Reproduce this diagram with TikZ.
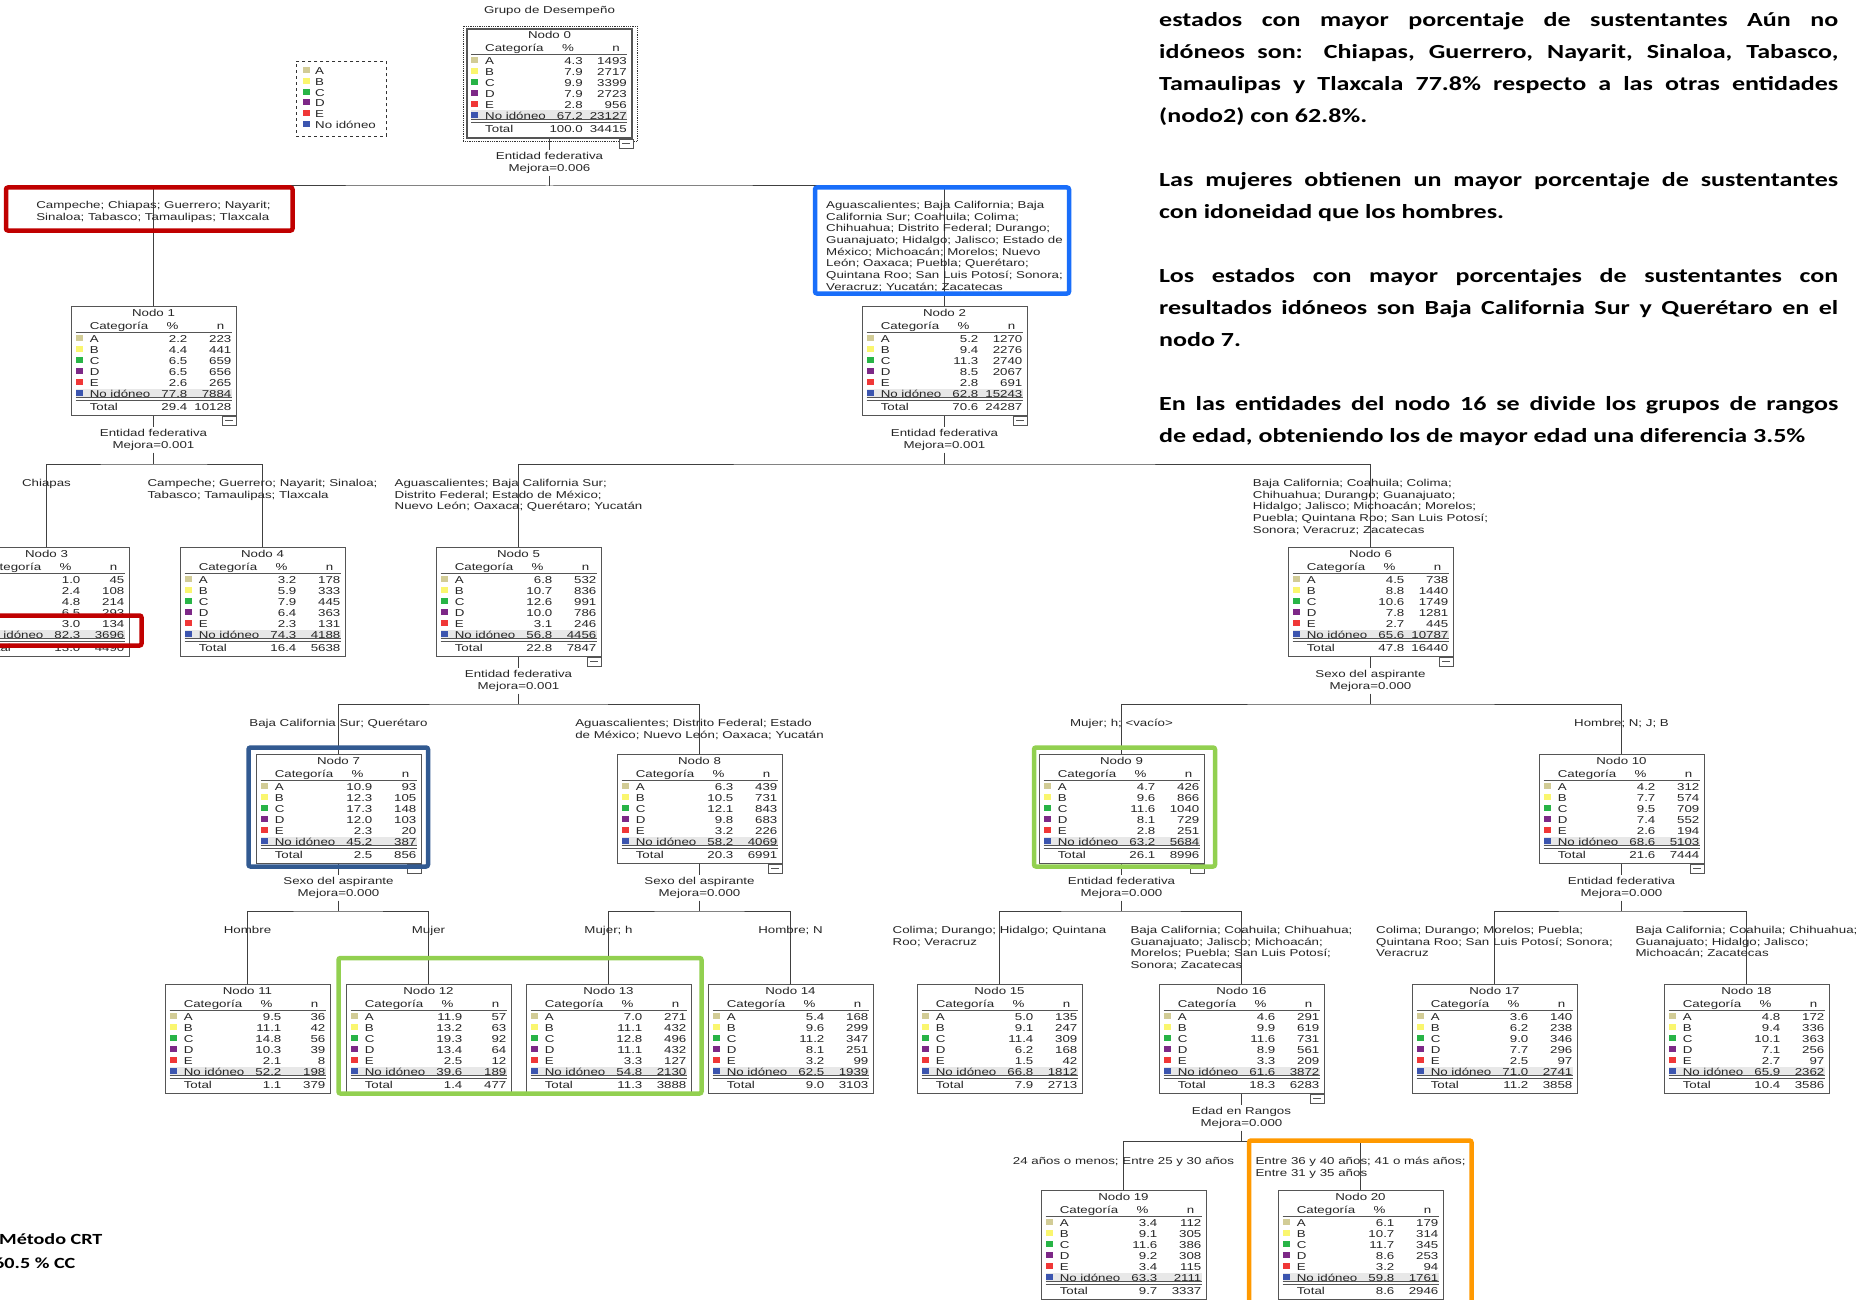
\documentclass[tikz,border=0pt]{standalone}
\usepackage{fontspec}
\usetikzlibrary{positioning,calc}

\newfontfamily\treefont{Liberation Sans}[FakeStretch=1.33]
\newfontfamily\notefont{Carlito}[FakeStretch=1.3]

\definecolor{cat1}{RGB}{210,204,150}
\definecolor{cat2}{RGB}{250,246,110}
\definecolor{cat3}{RGB}{40,180,70}
\definecolor{cat4}{RGB}{125,40,135}
\definecolor{cat5}{RGB}{240,55,55}
\definecolor{cat6}{RGB}{60,85,175}
\definecolor{rowgray}{RGB}{232,232,232}
\definecolor{boxline}{RGB}{85,85,85}
\definecolor{hiRed}{RGB}{192,0,0}
\definecolor{hiBlue}{RGB}{25,110,250}
\definecolor{hiNavy}{RGB}{50,90,145}
\definecolor{hiGreen}{RGB}{146,208,80}
\definecolor{hiOrange}{RGB}{255,153,0}

% table inside one tree node: name, title, pct/n of A..E, No idóneo, Total
\newcommand{\cattable}[3]{%
  \fill[rowgray] ($(#1.north west)+(5,82.5)$) rectangle ($(#1.north west)+(161,91)$);
  \node[cell, anchor=base] at ($(#1.north)+(0,10.6)$) {#2};
  \node[cell, anchor=base west] at ($(#1.north west)+(19,23.6)$) {Categoría};
  \node[cell, anchor=base] at ($(#1.north west)+(102,23.6)$) {\%};
  \node[cell, anchor=base] at ($(#1.north west)+(150,23.6)$) {n};
  \draw[boxline, line width=0.8pt] ($(#1.north west)+(5,26)$) -- ++(156,0);
  \draw[boxline, line width=0.8pt] ($(#1.north west)+(5,91.8)$) -- ++(156,0);
  \draw[boxline, line width=0.8pt] ($(#1.north west)+(5,94.2)$) -- ++(156,0);
  \foreach \pc/\nn [count=\i] in {#3} {
    \pgfmathsetmacro\ry{22+11*\i}
    \ifnum\i<7
      \fill[fill=cat\i] ($(#1.north west)+(5,\ry-4)$) rectangle ++(7,6);
      \node[cell, anchor=base west] at ($(#1.north west)+(19,\ry+3.6)$)
        {\ifcase\i\or A\or B\or C\or D\or E\or No idóneo\fi};
      \pgfmathsetmacro\rb{\ry+3.6}
    \else
      \node[cell, anchor=base west] at ($(#1.north west)+(19,\ry+5.6)$) {Total};
      \pgfmathsetmacro\rb{\ry+5.6}
    \fi
    \node[cell, anchor=base east] at ($(#1.north west)+(117,\rb)$) {\pc};
    \node[cell, anchor=base east] at ($(#1.north west)+(161,\rb)$) {\nn};
  }%
}

% small collapse box under a node
\newcommand{\fold}[1]{%
  \draw[boxline, fill=white, line width=0.8pt] ($(#1.south east)+(-14,0)$) rectangle ++(14,9);
  \draw[boxline, line width=0.8pt] ($(#1.south east)+(-11,4.5)$) -- ++(8,0);
}

\begin{document}
\begin{tikzpicture}[
  x=1pt, y=-1pt,
  catbox/.style={draw=boxline, fill=white, line width=0.9pt, minimum width=165pt, minimum height=109pt, inner sep=0pt, anchor=north},
  cell/.style={font=\treefont\fontsize{10}{11}\selectfont, inner sep=0pt, text=black!85},
  splitinfo/.style={font=\treefont\fontsize{10}{11.5}\selectfont, align=center, inner sep=2pt, text=black!85},
  branchlab/.style={font=\treefont\fontsize{10}{11.7}\selectfont, align=left, inner sep=0pt, anchor=north, text=black!85},
  link/.style={draw=black!75, line width=1pt},
  hilite/.style={line width=4.5pt, rounded corners=2pt},
  notetext/.style={font=\notefont\bfseries\fontsize{20}{32}\selectfont, text width=679pt, align=justify, inner sep=0pt, anchor=north west}
]
\useasboundingbox (0,0) rectangle (1860,1300);
\clip (0,0) rectangle (1860,1300);
\fill[white] (0,0) rectangle (1860,1300);

% legend and root
\node[cell, anchor=base] (title) at (549.5,13.6) {Grupo de Desempeño};
\node[draw=black!80, dashed, line width=0.8pt, minimum width=90pt, minimum height=75pt, anchor=north west] (legend) at (296,61) {};
\foreach \lab [count=\i] in {A,B,C,D,E,No idóneo} {
  \fill[fill=cat\i] ($(legend.north west)+(7,10.8*\i-4.8)$) rectangle ++(7,6);
  \node[cell, anchor=base west] at ($(legend.north west)+(19,10.8*\i+2.8)$) {\lab};
}

\node[catbox, line width=2pt] (n0) at (549.5,28) {};
\draw[densely dotted, black!80, line width=0.8pt] ($(n0.north west)+(-3,-1.5)$) rectangle ($(n0.south east)+(4,2.5)$);

% tree nodes
\node[catbox] (n1) at (153.5,306) {};
\node[catbox] (n2) at (944.5,306) {};
\node[catbox] (n3) at (46.5,547) {};
\node[catbox] (n4) at (262.5,547) {};
\node[catbox] (n5) at (518.5,547) {};
\node[catbox] (n6) at (1370.5,547) {};
\node[catbox] (n7) at (338.5,754) {};
\node[catbox] (n8) at (699.5,754) {};
\node[catbox] (n9) at (1121.5,754) {};
\node[catbox] (n10) at (1621.5,754) {};
\node[catbox] (n11) at (247.5,984) {};
\node[catbox] (n12) at (428.5,984) {};
\node[catbox] (n13) at (608.5,984) {};
\node[catbox] (n14) at (790.5,984) {};
\node[catbox] (n15) at (999.5,984) {};
\node[catbox] (n16) at (1241.5,984) {};
\node[catbox] (n17) at (1494.5,984) {};
\node[catbox] (n18) at (1746.5,984) {};
\node[catbox] (n19) at (1123.5,1190) {};
\node[catbox] (n20) at (1360.5,1190) {};

\cattable{n0}{Nodo 0}{4.3/1493, 7.9/2717, 9.9/3399, 7.9/2723, 2.8/956, 67.2/23127, 100.0/34415}
\cattable{n1}{Nodo 1}{2.2/223, 4.4/441, 6.5/659, 6.5/656, 2.6/265, 77.8/7884, 29.4/10128}
\cattable{n2}{Nodo 2}{5.2/1270, 9.4/2276, 11.3/2740, 8.5/2067, 2.8/691, 62.8/15243, 70.6/24287}
\cattable{n3}{Nodo 3}{1.0/45, 2.4/108, 4.8/214, 6.5/293, 3.0/134, 82.3/3696, 13.0/4490}
\cattable{n4}{Nodo 4}{3.2/178, 5.9/333, 7.9/445, 6.4/363, 2.3/131, 74.3/4188, 16.4/5638}
\cattable{n5}{Nodo 5}{6.8/532, 10.7/836, 12.6/991, 10.0/786, 3.1/246, 56.8/4456, 22.8/7847}
\cattable{n6}{Nodo 6}{4.5/738, 8.8/1440, 10.6/1749, 7.8/1281, 2.7/445, 65.6/10787, 47.8/16440}
\cattable{n7}{Nodo 7}{10.9/93, 12.3/105, 17.3/148, 12.0/103, 2.3/20, 45.2/387, 2.5/856}
\cattable{n8}{Nodo 8}{6.3/439, 10.5/731, 12.1/843, 9.8/683, 3.2/226, 58.2/4069, 20.3/6991}
\cattable{n9}{Nodo 9}{4.7/426, 9.6/866, 11.6/1040, 8.1/729, 2.8/251, 63.2/5684, 26.1/8996}
\cattable{n10}{Nodo 10}{4.2/312, 7.7/574, 9.5/709, 7.4/552, 2.6/194, 68.6/5103, 21.6/7444}
\cattable{n11}{Nodo 11}{9.5/36, 11.1/42, 14.8/56, 10.3/39, 2.1/8, 52.2/198, 1.1/379}
\cattable{n12}{Nodo 12}{11.9/57, 13.2/63, 19.3/92, 13.4/64, 2.5/12, 39.6/189, 1.4/477}
\cattable{n13}{Nodo 13}{7.0/271, 11.1/432, 12.8/496, 11.1/432, 3.3/127, 54.8/2130, 11.3/3888}
\cattable{n14}{Nodo 14}{5.4/168, 9.6/299, 11.2/347, 8.1/251, 3.2/99, 62.5/1939, 9.0/3103}
\cattable{n15}{Nodo 15}{5.0/135, 9.1/247, 11.4/309, 6.2/168, 1.5/42, 66.8/1812, 7.9/2713}
\cattable{n16}{Nodo 16}{4.6/291, 9.9/619, 11.6/731, 8.9/561, 3.3/209, 61.6/3872, 18.3/6283}
\cattable{n17}{Nodo 17}{3.6/140, 6.2/238, 9.0/346, 7.7/296, 2.5/97, 71.0/2741, 11.2/3858}
\cattable{n18}{Nodo 18}{4.8/172, 9.4/336, 10.1/363, 7.1/256, 2.7/97, 65.9/2362, 10.4/3586}
\cattable{n19}{Nodo 19}{3.4/112, 9.1/305, 11.6/386, 9.2/308, 3.4/115, 63.3/2111, 9.7/3337}
\cattable{n20}{Nodo 20}{6.1/179, 10.7/314, 11.7/345, 8.6/253, 3.2/94, 59.8/1761, 8.6/2946}

\foreach \nd in {n0,n1,n2,n5,n6,n7,n8,n9,n10,n16} {\fold{\nd}}

% split variables
\node[splitinfo, below=11.5pt of n0] (s0) {Entidad federativa\\Mejora=0.006};
\node[splitinfo, below=11.5pt of n1] (s1) {Entidad federativa\\Mejora=0.001};
\node[splitinfo, below=11.5pt of n2] (s2) {Entidad federativa\\Mejora=0.001};
\node[splitinfo, below=11.5pt of n5] (s5) {Entidad federativa\\Mejora=0.001};
\node[splitinfo, below=11.5pt of n6] (s6) {Sexo del aspirante\\Mejora=0.000};
\node[splitinfo, below=11.5pt of n7] (s7) {Sexo del aspirante\\Mejora=0.000};
\node[splitinfo, below=11.5pt of n8] (s8) {Sexo del aspirante\\Mejora=0.000};
\node[splitinfo, below=11.5pt of n9] (s9) {Entidad federativa\\Mejora=0.000};
\node[splitinfo, below=11.5pt of n10] (s10) {Entidad federativa\\Mejora=0.000};
\node[splitinfo, below=11.5pt of n16] (s16) {Edad en Rangos\\Mejora=0.000};

\coordinate (j0) at (549.5,186);
\coordinate (j1) at (153.5,464);
\coordinate (j2) at (944.5,464);
\coordinate (j5) at (518.5,704);
\coordinate (j6) at (1370.5,704);
\coordinate (j7) at (338.5,911);
\coordinate (j8) at (699.5,911);
\coordinate (j9) at (1121.5,911);
\coordinate (j10) at (1621.5,911);
\coordinate (j16) at (1241.5,1141);

% connectors
\foreach \p/\a/\b in {0/1/2, 1/3/4, 2/5/6, 5/7/8, 6/9/10, 7/11/12, 8/13/14, 9/15/16, 10/17/18, 16/19/20} {
  \draw[link] (n\p) -- (s\p);
  \draw[link] (s\p) -- (j\p);
  \draw[link] (n\a) |- (j\p) -| (n\b);
}

% branch labels
\node[branchlab] (b1) at (153.5,201) {Campeche; Chiapas; Guerrero; Nayarit;\\Sinaloa; Tabasco; Tamaulipas; Tlaxcala};
\node[branchlab] (b2) at (944.5,201) {Aguascalientes; Baja California; Baja\\California Sur; Coahuila; Colima;\\Chihuahua; Distrito Federal; Durango;\\Guanajuato; Hidalgo; Jalisco; Estado de\\México; Michoacán; Morelos; Nuevo\\León; Oaxaca; Puebla; Querétaro;\\Quintana Roo; San Luis Potosí; Sonora;\\Veracruz; Yucatán; Zacatecas};
\node[branchlab] (b3) at (46.5,479) {Chiapas};
\node[branchlab] (b4) at (262.5,479) {Campeche; Guerrero; Nayarit; Sinaloa;\\Tabasco; Tamaulipas; Tlaxcala};
\node[branchlab] (b5) at (518.5,479) {Aguascalientes; Baja California Sur;\\Distrito Federal; Estado de México;\\Nuevo León; Oaxaca; Querétaro; Yucatán};
\node[branchlab] (b6) at (1370.5,479) {Baja California; Coahuila; Colima;\\Chihuahua; Durango; Guanajuato;\\Hidalgo; Jalisco; Michoacán; Morelos;\\Puebla; Quintana Roo; San Luis Potosí;\\Sonora; Veracruz; Zacatecas};
\node[branchlab] (b7) at (338.5,719) {Baja California Sur; Querétaro};
\node[branchlab] (b8) at (699.5,719) {Aguascalientes; Distrito Federal; Estado\\de México; Nuevo León; Oaxaca; Yucatán};
\node[branchlab] (b9) at (1121.5,719) {Mujer; h; \textless vacío\textgreater};
\node[branchlab] (b10) at (1621.5,719) {Hombre; N; J; B};
\node[branchlab] (b11) at (247.5,926) {Hombre};
\node[branchlab] (b12) at (428.5,926) {Mujer};
\node[branchlab] (b13) at (608.5,926) {Mujer; h};
\node[branchlab] (b14) at (790.5,926) {Hombre; N};
\node[branchlab] (b15) at (999.5,926) {Colima; Durango; Hidalgo; Quintana\\Roo; Veracruz};
\node[branchlab] (b16) at (1241.5,926) {Baja California; Coahuila; Chihuahua;\\Guanajuato; Jalisco; Michoacán;\\Morelos; Puebla; San Luis Potosí;\\Sonora; Zacatecas};
\node[branchlab] (b17) at (1494.5,926) {Colima; Durango; Morelos; Puebla;\\Quintana Roo; San Luis Potosí; Sonora;\\Veracruz};
\node[branchlab] (b18) at (1746.5,926) {Baja California; Coahuila; Chihuahua;\\Guanajuato; Hidalgo; Jalisco;\\Michoacán; Zacatecas};
\node[branchlab] (b19) at (1123.5,1157) {24 años o menos; Entre 25 y 30 años};
\node[branchlab] (b20) at (1360.5,1157) {Entre 36 y 40 años; 41 o más años;\\Entre 31 y 35 años};

% highlights
\draw[hilite, hiRed] (6,187.5) rectangle (292.5,230.5);
\draw[hilite, hiBlue] (815,187.5) rectangle (1069,293.5);
\draw[hilite, hiRed] (-10,615.5) rectangle (141.5,645.5);
\draw[hilite, hiNavy] (248.5,747.5) rectangle (428,866.5);
\draw[hilite, hiGreen] (1034,747.5) rectangle (1215,866.5);
\draw[hilite, hiGreen] (338.5,958) rectangle (701.5,1093.5);
\draw[hilite, hiOrange] (1249,1140.5) rectangle (1471.5,1320);

% notes
\node[notetext] (notes) at (1159,12.5) {\setlength{\parindent}{0pt}%
estados con mayor porcentaje de sustentantes Aún no\linebreak
idóneos son: Chiapas, Guerrero, Nayarit, Sinaloa, Tabasco,\linebreak
Tamaulipas y Tlaxcala 77.8\% respecto a las otras entidades\linebreak
(nodo2) con 62.8\%.\par\vspace{32pt}
Las mujeres obtienen un mayor porcentaje de sustentantes\linebreak
con idoneidad que los hombres.\par\vspace{32pt}
Los estados con mayor porcentajes de sustentantes con\linebreak
resultados idóneos son Baja California Sur y Querétaro en el\linebreak
nodo 7.\par\vspace{32pt}
En las entidades del nodo 16 se divide los grupos de rangos\linebreak
de edad, obteniendo los de mayor edad una diferencia 3.5\%};
\node[font=\notefont\bfseries\fontsize{15.5}{19}\selectfont, inner sep=0pt, anchor=base west] (crt) at (-1,1244) {Método CRT};
\node[font=\notefont\bfseries\fontsize{15.5}{19}\selectfont, inner sep=0pt, anchor=base west] (cc) at (-6,1268) {60.5 \% CC};
\end{tikzpicture}
\end{document}
